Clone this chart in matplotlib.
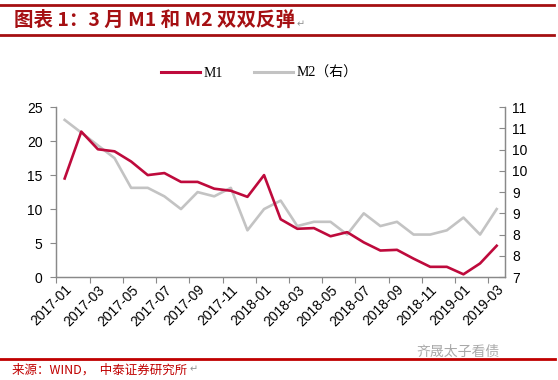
import numpy as np
import matplotlib
matplotlib.use("Agg")
import matplotlib.pyplot as plt
from matplotlib.lines import Line2D

plt.rcParams["font.family"] = ["Liberation Sans", "Noto Sans CJK SC", "DejaVu Sans"]

############## data #####################
months = ["2017-01", "2017-02", "2017-03", "2017-04", "2017-05", "2017-06", "2017-07",
          "2017-08", "2017-09", "2017-10", "2017-11", "2017-12", "2018-01", "2018-02",
          "2018-03", "2018-04", "2018-05", "2018-06", "2018-07", "2018-08", "2018-09",
          "2018-10", "2018-11", "2018-12", "2019-01", "2019-02", "2019-03"]
m1 = [14.5, 21.4, 18.8, 18.5, 17.0, 15.0, 15.3, 14.0, 14.0, 13.0, 12.7, 11.8, 15.0, 8.5,
      7.1, 7.2, 6.0, 6.6, 5.1, 3.9, 4.0, 2.7, 1.5, 1.5, 0.4, 2.0, 4.6]
m2 = [10.7, 10.4, 10.1, 9.8, 9.1, 9.1, 8.9, 8.6, 9.0, 8.9, 9.1, 8.1, 8.6, 8.8,
      8.2, 8.3, 8.3, 8.0, 8.5, 8.2, 8.3, 8.0, 8.0, 8.1, 8.4, 8.0, 8.6]
left_ticks = [0, 5, 10, 15, 20, 25]
right_ticks = [7, 7.5, 8, 8.5, 9, 9.5, 10, 10.5, 11]
right_labels = ["7", "8", "8", "9", "9", "10", "10", "11", "11"]

red = "#BE0A3C"
grey = "#C3C3C3"
axis_grey = "#898989"
dark_red = "#A50F12"

fig = plt.figure(figsize=(5.58, 3.80), dpi=100)
ax = fig.add_axes([0.101, 0.271, 0.804, 0.447])
ax2 = ax.twinx()

x = np.arange(len(months))
ax.plot(x, m1, "-", color=red, linewidth=1.9, zorder=3)
ax2.plot(x, m2, "-", color=grey, linewidth=1.9, zorder=2)
ax.set_zorder(ax2.get_zorder() + 1)
ax.patch.set_visible(False)

ax.set_xlim(-0.5, len(months) - 0.5)
ax.set_ylim(0, 25)
ax2.set_ylim(7, 11)

# ticks between categories, labels at every other category
ax.set_xticks(np.arange(-0.5, len(months) - 0.5, 2))
ax.set_xticklabels([])
ax.set_xticks(x[::2], minor=True)
ax.set_xticklabels(months[::2], minor=True, rotation=45, ha="right",
                   rotation_mode="anchor", fontsize=10)
ax.tick_params(axis="x", which="minor", length=0, pad=4)
ax.tick_params(axis="x", which="major", length=4, width=0.8, color=axis_grey, direction="out")

ax.set_yticks(left_ticks)
ax.tick_params(axis="y", length=4, width=0.8, color=axis_grey, labelsize=10, pad=6)
ax2.set_yticks(right_ticks)
ax2.set_yticklabels(right_labels)
ax2.tick_params(axis="y", length=4, width=0.8, color=axis_grey, direction="in", labelsize=10, pad=5)

for a in [ax, ax2]:
    a.spines["top"].set_visible(False)
    for s in ["left", "right", "bottom"]:
        a.spines[s].set_color(axis_grey)
        a.spines[s].set_linewidth(0.9)

# legend
handles = [Line2D([], [], color=red, linewidth=2.2), Line2D([], [], color=grey, linewidth=2.2)]
fig.legend(handles, ["M1", "M2（右）"], loc="center", bbox_to_anchor=(0.465, 0.808), ncol=2,
           frameon=False, handlelength=2.8, handletextpad=0.3, columnspacing=2.2,
           prop={"family": ["Liberation Serif", "Noto Sans CJK SC"], "size": 10})

# title block
fig.add_artist(Line2D([0.0, 0.993], [0.987, 0.987], color=dark_red, linewidth=2))
fig.add_artist(Line2D([0.0, 0.993], [0.908, 0.908], color=dark_red, linewidth=2))
fig.text(0.025, 0.947, "图表 1：3 月 M1 和 M2 双双反弹", color=dark_red, fontsize=14,
         fontweight="bold", ha="left", va="center", family=["Noto Sans CJK SC", "DejaVu Sans"])
fig.text(0.532, 0.935, "↵", color="#909090", fontsize=7, ha="left", va="center", family="DejaVu Sans")

# source block
fig.add_artist(Line2D([0.0, 0.995], [0.055, 0.055], color="#C00000", linewidth=2))
fig.text(0.022, 0.027, "来源：WIND，  中泰证券研究所", color="#C00000", fontsize=9,
         ha="left", va="center", family=["Noto Sans CJK SC", "DejaVu Sans"])
fig.text(0.339, 0.027, "↵", color="#909090", fontsize=7, ha="left", va="center", family="DejaVu Sans")
fig.text(0.82, 0.075, "齐晟太子看债", color="#A0A0A0", fontsize=10, ha="center", va="center",
         family=["Noto Sans CJK SC", "DejaVu Sans"], alpha=0.9)

plt.savefig("out.png", dpi=100)
